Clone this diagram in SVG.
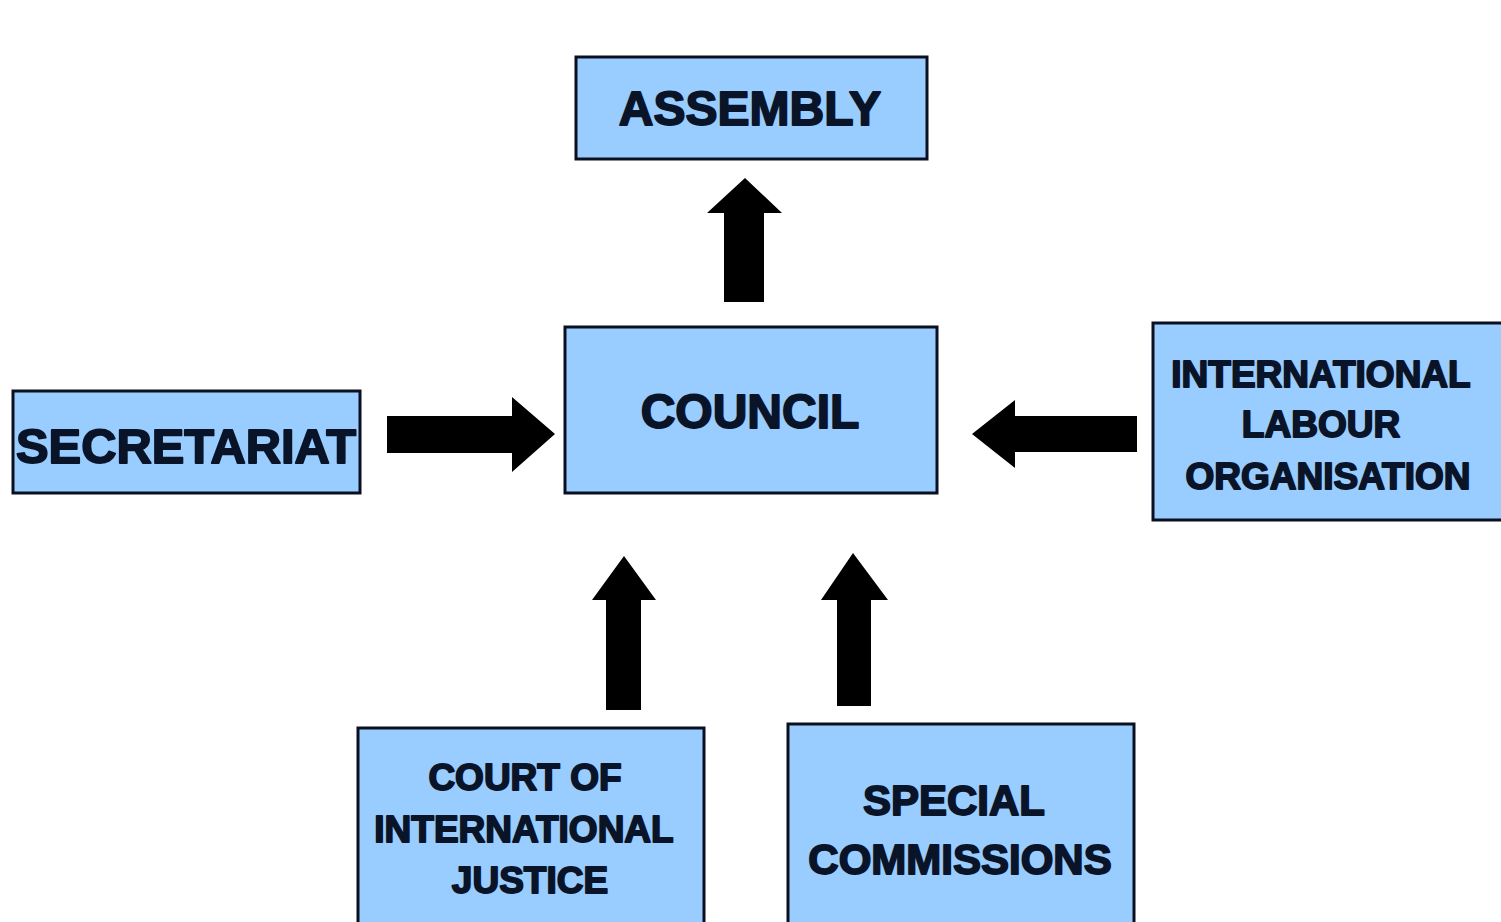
<svg xmlns="http://www.w3.org/2000/svg" width="1501" height="922" viewBox="0 0 1501 922">
<style>
.box{fill:#99ccff;stroke:#0a1020;stroke-width:3}
.t{font-family:"Liberation Sans",Arial,sans-serif;font-weight:bold;fill:#0a1428;stroke:#0a1428;stroke-width:1.8;stroke-linejoin:round;text-anchor:middle}
.arrow{fill:#000}
</style>
<rect width="1501" height="922" fill="#fff"/>
<g id="connectors">
<polygon class="arrow" points="724,302 764,302 764,213 782,213 745,178 707,213 724,213"/>
<polygon class="arrow" points="387,416 512,416 512,397 555,434 512,472 512,453 387,453"/>
<polygon class="arrow" points="1137,416 1015,416 1015,400 972,434 1015,468 1015,452 1137,452"/>
<polygon class="arrow" points="606,710 641,710 641,600 656,600 624,556 592,600 606,600"/>
<polygon class="arrow" points="837,706 871,706 871,600 888,600 853,553 821,600 837,600"/>
</g>
<g id="assembly">
<rect class="box" x="576" y="57" width="351" height="102"/>
<text class="t" x="750" y="125" font-size="48">ASSEMBLY</text>
</g>
<g id="council">
<rect class="box" x="565" y="327" width="372" height="166"/>
<text class="t" x="750" y="428" font-size="48">COUNCIL</text>
</g>
<g id="secretariat">
<rect class="box" x="13" y="391" width="347" height="102"/>
<text class="t" x="186" y="463" font-size="48" textLength="340" lengthAdjust="spacingAndGlyphs">SECRETARIAT</text>
</g>
<g id="ilo">
<rect class="box" x="1153" y="323" width="350" height="197"/>
<text class="t" x="1321" y="387" font-size="37">INTERNATIONAL</text>
<text class="t" x="1321" y="437" font-size="37">LABOUR</text>
<text class="t" x="1328" y="489" font-size="37">ORGANISATION</text>
</g>
<g id="court">
<rect class="box" x="358" y="728" width="346" height="200"/>
<text class="t" x="525" y="790" font-size="37">COURT OF</text>
<text class="t" x="524" y="842" font-size="37">INTERNATIONAL</text>
<text class="t" x="530" y="893" font-size="37">JUSTICE</text>
</g>
<g id="special">
<rect class="box" x="788" y="724" width="346" height="204"/>
<text class="t" x="954" y="815" font-size="42">SPECIAL</text>
<text class="t" x="960" y="874" font-size="42">COMMISSIONS</text>
</g>
</svg>
